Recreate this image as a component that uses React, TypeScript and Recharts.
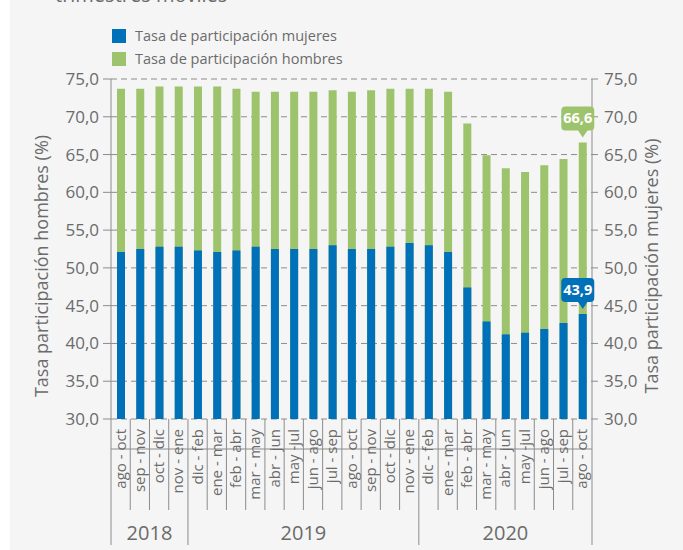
import React from "react";
import {
  ComposedChart,
  Bar,
  XAxis,
  YAxis,
  CartesianGrid,
  LabelList,
} from "recharts";

// moving quarters (trimestres móviles)
const periods = [
  "ago - oct", "sep - nov", "oct - dic", "nov - ene",
  "dic - feb", "ene - mar", "feb - abr", "mar - may", "abr - jun", "may -jul",
  "jun - ago", "jul - sep", "ago - oct", "sep - nov", "oct - dic", "nov - ene",
  "dic - feb", "ene - mar", "feb - abr", "mar - may", "abr - jun", "may -jul",
  "jun - ago", "jul - sep", "ago - oct",
];

const years = ["2018", "2019", "2020"];
const yearCounts = [4, 12, 9];

const hombres = [
  73.7, 73.7, 74.0, 74.0, 74.0, 74.0, 73.7, 73.3, 73.3, 73.3, 73.3, 73.5, 73.3,
  73.5, 73.7, 73.7, 73.7, 73.3, 69.1, 64.9, 63.2, 62.7, 63.6, 64.4, 66.6,
];

const mujeres = [
  52.1, 52.5, 52.8, 52.8, 52.3, 52.1, 52.3, 52.8, 52.5, 52.5, 52.5, 53.0, 52.5,
  52.5, 52.8, 53.3, 53.0, 52.1, 47.4, 42.9, 41.2, 41.4, 41.9, 42.7, 43.9,
];

const yTicks = [30, 35, 40, 45, 50, 55, 60, 65, 70, 75];

const BLUE = "#0071b9";
const GREEN = "#9dc46c";
const TEXT = "#6b6b6b";
const LINE = "#8c8c8c";
const FONT = "'Open Sans', sans-serif";

const W = 683;
const H = 550;
const LEFT_W = 111;
const RIGHT_W = 91;
const TOP = 79;
const XAXIS_H = 131;
const PLOT_BOTTOM = H - XAXIS_H;
const BAND = (W - LEFT_W - RIGHT_W) / periods.length;

const data = periods.map((p, i) => ({
  period: p,
  hombres: hombres[i],
  mujeres: mujeres[i],
}));

// index of the first period of each year
const yearStarts: number[] = [];
yearCounts.reduce((acc, c) => {
  yearStarts.push(acc);
  return acc + c;
}, 0);

const fmt = (v: number) => v.toFixed(1).replace(".", ",");

const PeriodTick = (props: any) => {
  const { x, index, payload } = props;
  const left = x - BAND / 2;
  const yi = yearStarts.indexOf(index);
  const isLast = index === periods.length - 1;
  return (
    <g>
      <line
        x1={left}
        x2={left}
        y1={PLOT_BOTTOM}
        y2={yi >= 0 ? PLOT_BOTTOM + 126 : PLOT_BOTTOM + 91}
        stroke={LINE}
        strokeWidth={1}
      />
      {isLast && (
        <line
          x1={left + BAND}
          x2={left + BAND}
          y1={PLOT_BOTTOM}
          y2={PLOT_BOTTOM + 126}
          stroke={LINE}
          strokeWidth={1}
        />
      )}
      <text
        x={x + 5}
        y={PLOT_BOTTOM + 10}
        transform={`rotate(-90, ${x + 5}, ${PLOT_BOTTOM + 10})`}
        textAnchor="end"
        fill={TEXT}
        fontSize={15}
        fontFamily={FONT}
      >
        {payload.value}
      </text>
      {yi >= 0 && (
        <text
          x={left + (yearCounts[yi] * BAND) / 2}
          y={PLOT_BOTTOM + 121}
          textAnchor="middle"
          fill={TEXT}
          fontSize={20}
          fontFamily={FONT}
        >
          {years[yi]}
        </text>
      )}
    </g>
  );
};

const makeCallout = (fill: string) => (props: any) => {
  const { x, y, width, value, index } = props;
  if (index !== data.length - 1) return null;
  const cx = x + width / 2;
  const boxW = 33;
  const boxH = 24;
  const bx = cx - 5 - boxW / 2;
  const by = y - 12 - boxH;
  return (
    <g>
      <rect x={bx} y={by} width={boxW} height={boxH} rx={4} fill={fill} />
      <path
        d={`M${cx - 5},${y - 12.5} L${cx + 5},${y - 12.5} L${cx},${y - 5} Z`}
        fill={fill}
      />
      <text
        x={bx + boxW / 2}
        y={by + 17}
        textAnchor="middle"
        fill="#fff"
        fontSize={14.5}
        fontWeight={700}
        fontFamily={FONT}
      >
        {fmt(Number(value))}
      </text>
    </g>
  );
};

const AxisTitle = (cx: number, text: string) => () => (
  <text
    x={cx}
    y={266}
    transform={`rotate(-90, ${cx}, 266)`}
    textAnchor="middle"
    fill={TEXT}
    fontSize={18}
    fontFamily={FONT}
  >
    {text}
  </text>
);

const legendItems = [
  { c: BLUE, t: "Tasa de participación mujeres" },
  { c: GREEN, t: "Tasa de participación hombres" },
];

const App: React.FC = () => {
  return (
    <div
      style={{
        position: "absolute",
        left: 0,
        top: 0,
        width: W,
        height: H,
        background: "#fff",
        overflow: "hidden",
      }}
    >
      <div
        style={{
          position: "absolute",
          left: 10,
          top: 0,
          width: W - 10,
          height: H,
          background: "#f5f5f5",
        }}
      />
      <div
        style={{
          position: "absolute",
          left: 55,
          top: -19,
          fontFamily: FONT,
          fontSize: 20,
          color: TEXT,
          whiteSpace: "nowrap",
        }}
      >
        trimestres móviles
      </div>
      <div
        style={{
          position: "absolute",
          left: 112,
          top: 24,
          fontFamily: FONT,
          fontSize: 14.5,
          color: TEXT,
        }}
      >
        {legendItems.map((it) => (
          <div
            key={it.t}
            style={{ display: "flex", alignItems: "center", height: 23 }}
          >
            <span
              style={{
                width: 14,
                height: 14,
                background: it.c,
                display: "inline-block",
                marginRight: 9,
              }}
            />
            {it.t}
          </div>
        ))}
      </div>
      <div style={{ position: "absolute", left: 0, top: 0 }}>
        <ComposedChart
          width={W}
          height={H}
          data={data}
          margin={{ top: TOP, right: 0, bottom: 0, left: 0 }}
          barGap={0}
        >
          <CartesianGrid
            xAxisId="m"
            yAxisId="left"
            vertical={false}
            stroke={LINE}
            strokeDasharray="6 4"
          />
          <XAxis
            xAxisId="m"
            dataKey="period"
            interval={0}
            height={XAXIS_H}
            tickLine={false}
            axisLine={{ stroke: LINE }}
            tick={<PeriodTick />}
          />
          <XAxis xAxisId="h" dataKey="period" hide />
          <YAxis
            yAxisId="left"
            width={LEFT_W}
            domain={[30, 75]}
            ticks={yTicks}
            allowDataOverflow
            tickFormatter={fmt}
            tickSize={8}
            tickMargin={4}
            axisLine={{ stroke: LINE }}
            tickLine={{ stroke: LINE }}
            tick={{ fill: TEXT, fontSize: 17, fontFamily: FONT }}
            label={{ content: AxisTitle(48, "Tasa participación hombres (%)") }}
          />
          <YAxis
            yAxisId="right"
            orientation="right"
            width={RIGHT_W}
            domain={[30, 75]}
            ticks={yTicks}
            allowDataOverflow
            tickFormatter={fmt}
            tickSize={6}
            tickMargin={6}
            axisLine={{ stroke: LINE }}
            tickLine={{ stroke: LINE }}
            tick={{ fill: TEXT, fontSize: 17, fontFamily: FONT }}
            label={{ content: AxisTitle(658, "Tasa participación mujeres (%)") }}
          />
          <Bar
            xAxisId="h"
            yAxisId="left"
            dataKey="hombres"
            fill={GREEN}
            barSize={8}
            isAnimationActive={false}
          >
            <LabelList dataKey="hombres" content={makeCallout(GREEN)} />
          </Bar>
          <Bar
            xAxisId="m"
            yAxisId="left"
            dataKey="mujeres"
            fill={BLUE}
            barSize={8}
            isAnimationActive={false}
          >
            <LabelList dataKey="mujeres" content={makeCallout(BLUE)} />
          </Bar>
        </ComposedChart>
      </div>
    </div>
  );
};

export default App;
